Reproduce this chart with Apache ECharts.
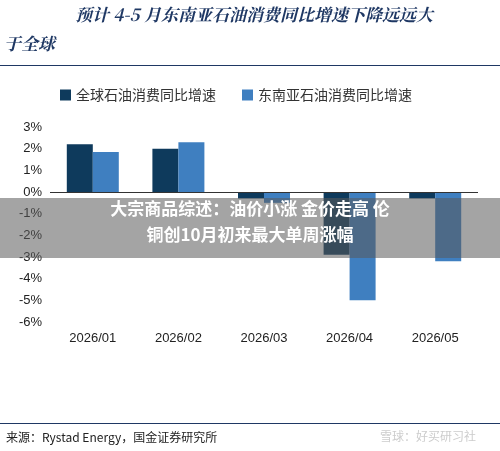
<!DOCTYPE html><html><head><meta charset="utf-8"><script src="https://cdn.jsdelivr.net/npm/echarts@6/dist/echarts.min.js"></script></head><body style="margin:0"><div id="c" style="width:500px;height:451px"></div><script>
const categories=['2026/01','2026/02','2026/03','2026/04','2026/05'];
const globalVals=[2.2,2.0,-0.3,-2.9,-0.3];
const seaVals=[1.85,2.3,-0.5,-5.0,-3.2];
const c=echarts.init(document.getElementById('c'));
c.setOption({animation:false,backgroundColor:'#fff',
graphic:[
{type:'text',left:75,top:6,style:{text:'预计 4-5 月东南亚石油消费同比增速下降远远大',fill:'#1f3864',font:'italic bold 17px "Noto Serif CJK SC","Noto Sans CJK SC"'}},
{type:'text',left:4,top:35,style:{text:'于全球',fill:'#1f3864',font:'italic bold 17px "Noto Serif CJK SC","Noto Sans CJK SC"'}},
{type:'rect',left:0,top:65,shape:{width:500,height:1},style:{fill:'#1f3864'}},
{type:'rect',left:0,top:423,shape:{width:500,height:1},style:{fill:'#1f3864'}},
{type:'text',left:6,top:431,style:{text:'来源：Rystad Energy，国金证券研究所',fill:'#222',font:'12px "Noto Sans CJK SC"'}},
{type:'text',left:380,top:430,style:{text:'雪球：好买研习社',fill:'#ccc',font:'12px "Noto Sans CJK SC"'}},
{type:'rect',left:0,top:198,z:100,shape:{width:500,height:60},style:{fill:'rgba(90,90,90,0.55)'}},
{type:'text',left:'center',top:200,z:101,style:{text:'大宗商品综述：油价小涨 金价走高 伦',fill:'#fff',font:'bold 17px "Noto Sans CJK SC"'}},
{type:'text',left:'center',top:226,z:101,style:{text:'铜创10月初来最大单周涨幅',fill:'#fff',font:'bold 17px "Noto Sans CJK SC"'}}
],
legend:{top:83,left:55,itemGap:26,icon:'rect',itemWidth:11,itemHeight:11,textStyle:{fontSize:14,color:'#333',fontFamily:'Noto Sans CJK SC'}},
grid:{left:50,right:22,top:127,bottom:129,outerBoundsMode:'none',containLabel:false},
xAxis:{type:'category',data:categories,position:'bottom',axisLine:{show:false},axisTick:{show:false},axisLabel:{fontSize:13,color:'#222',margin:10}},
yAxis:{type:'value',min:-6,max:3,interval:1,axisLabel:{formatter:'{value}%',fontSize:13,color:'#222'},splitLine:{show:false},axisLine:{show:false}},
series:[
{name:'全球石油消费同比增速',type:'bar',data:globalVals,barWidth:26,barGap:'0%',itemStyle:{color:'#0e3a5c'},markLine:{silent:true,symbol:'none',label:{show:false},lineStyle:{color:'#333',type:'solid',width:1},data:[{yAxis:0}]}},
{name:'东南亚石油消费同比增速',type:'bar',data:seaVals,barWidth:26,itemStyle:{color:'#3f7fc0'}}
]});
</script></body></html>
